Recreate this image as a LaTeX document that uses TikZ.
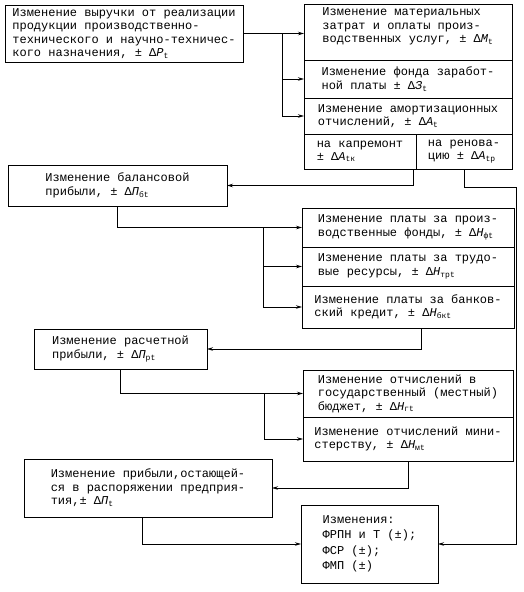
\documentclass[tikz,border=0pt]{standalone}
\usepackage{fontspec}
\setmainfont{Liberation Mono}
\usetikzlibrary{arrows.meta, positioning}

\newcommand{\dlt}[2]{±~Δ\textit{#1}\textsubscript{#2}}

\begin{document}
\begin{tikzpicture}[x=1pt, y=-1pt, line width=0.8pt,
        blok/.style={draw, rectangle, outer sep=0pt, inner sep=2pt, align=left,
                     font=\fontsize{12}{13.5}\selectfont},
        subblok/.style={blok, inner ysep=1pt, font=\fontsize{12}{12.5}\selectfont},
        >={Stealth[length=6pt, width=3.5pt]}]
        \useasboundingbox (0,0) rectangle (524,592);

        % left column
        \node[blok, anchor=north west, minimum width=238pt, minimum height=57pt] (p_t)   at (5,5)     {Изменение выручки от реализации\\ продукции производственно-\\ технического и научно-техничес-\\ кого назначения, \dlt{P}{t}};
        \node[blok, anchor=north west, minimum width=219pt, minimum height=41pt] (pb_t)  at (8,165)   {Изменение балансовой\\ прибыли, \dlt{П}{бt}};
        \node[blok, anchor=north west, minimum width=173pt, minimum height=40pt] (pr_t)  at (34,329)  {Изменение расчетной\\ прибыли, \dlt{П}{рt}};
        \node[blok, anchor=north west, minimum width=248pt, minimum height=58pt] (po_t)  at (24,459)  {Изменение прибыли,остающей-\\ ся в распоряжении предприя-\\ тия,\dlt{П}{t}};

        % right column
        \node[blok, anchor=north west, minimum width=208pt, minimum height=56pt] (m_t)   at (304,4)   {Изменение материальных\\ затрат и оплаты произ-\\ водственных услуг, \dlt{M}{t}\\ \mbox{}};
        \node[blok, minimum width=208pt, minimum height=38pt]                    (z_t)   [below=0pt of m_t]  {Изменение фонда заработ-\\ ной платы \dlt{З}{t}};
        \node[blok, minimum width=208pt, minimum height=36pt]                    (a_t)   [below=0pt of z_t]  {Изменение амортизационных\\ отчислений, \dlt{A}{t}};
        \node[subblok, anchor=north west, minimum width=112pt, minimum height=35pt] (a_tk)  at (a_t.south west) {на капремонт\\ \dlt{A}{tк}};
        \node[subblok, anchor=north west, minimum width=96pt, minimum height=35pt]  (a_tr)  at (a_tk.north east) {на ренова-\\ цию \dlt{A}{tр}};

        \node[blok, anchor=north west, minimum width=212pt, minimum height=39pt] (hf_t)  at (302,208) {Изменение платы за произ-\\ водственные фонды, \dlt{H}{фt}};
        \node[blok, minimum width=212pt, minimum height=39pt]                    (htr_t) [below=0pt of hf_t]  {Изменение платы за трудо-\\ вые ресурсы, \dlt{H}{трt}};
        \node[blok, minimum width=212pt, minimum height=42pt]                    (hbk_t) [below=0pt of htr_t] {Изменение платы за банков-\\ ский кредит, \dlt{H}{бкt}};

        \node[blok, anchor=north west, minimum width=210pt, minimum height=47pt] (hg_t)  at (303,370) {Изменение отчислений в\\ государственный (местный)\\ бюджет, \dlt{H}{гt}};
        \node[blok, minimum width=210pt, minimum height=44pt]                    (hm_t)  [below=0pt of hg_t]  {Изменение отчислений мини-\\ стерству, \dlt{H}{мt}};

        \node[blok, anchor=north west, minimum width=137pt, minimum height=78pt] (fonds) at (301,505) {Изменения:\\[2pt] ФРПН и Т (±);\\[2pt] ФСР (±);\\[2pt] ФМП (±)};

        % branch points
        \coordinate (split1) at ([xshift=39pt]p_t.east);
        \coordinate (split2) at ([xshift=-39pt]hf_t.west);
        \coordinate (split3) at ([xshift=-39pt]hg_t.west);
        \coordinate (rail)   at ([xshift=52pt, yshift=-18pt]a_tr.south);

        % connectors
        \draw[->] (p_t.east) -- (m_t.west |- p_t.east);
        \draw[->] (split1) |- (z_t.west);
        \draw[->] (split1) |- (a_t.west);
        \draw[->] ([xshift=-3pt]a_tk.south east) |- (pb_t.east);
        \draw[->] (a_tr.south) |- (rail) |- (fonds.east);
        \draw[->] (pb_t.south) |- (hf_t.west);
        \draw[->] (split2) |- (htr_t.west);
        \draw[->] (split2) |- (hbk_t.west);
        \draw[->] ([xshift=13pt]hbk_t.south) |- (pr_t.east);
        \draw[->] (pr_t.south) |- (hg_t.west);
        \draw[->] (split3) |- (hm_t.west);
        \draw[->] (hm_t.south) |- (po_t.east);
        \draw[->] ([xshift=-6pt]po_t.south) |- (fonds.west);
\end{tikzpicture}
\end{document}
